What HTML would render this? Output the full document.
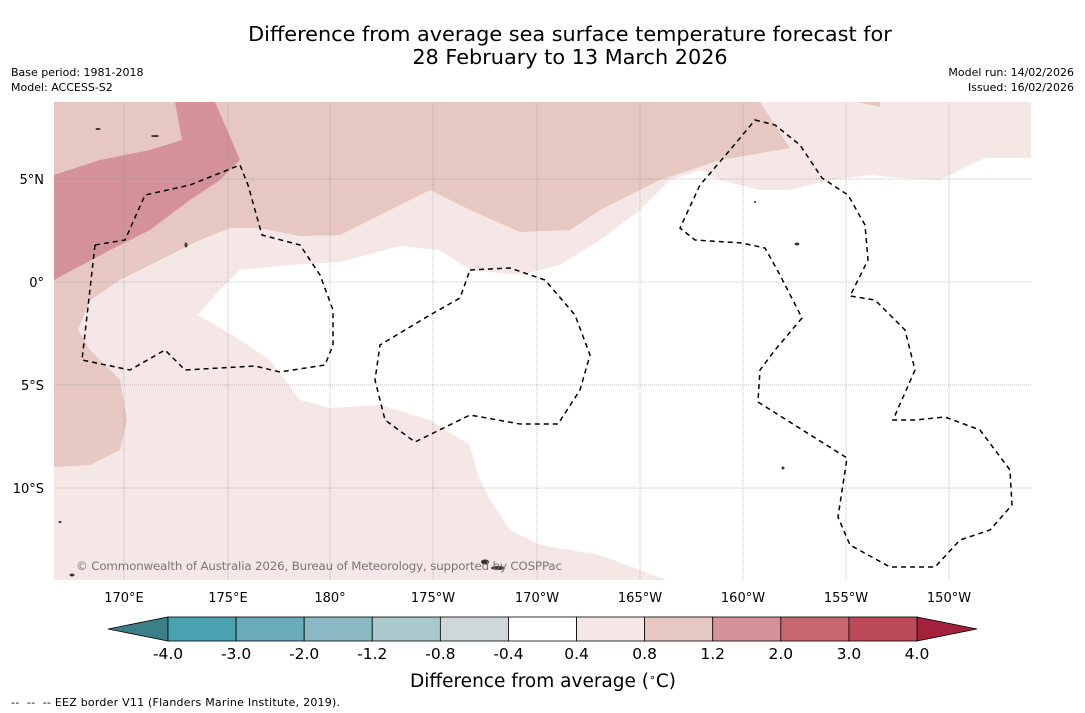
<!DOCTYPE html>
<html><head><meta charset="utf-8"><style>
body{margin:0;background:#fff;font-family:"DejaVu Sans","Liberation Sans",sans-serif;}
svg{display:block}
</style></head><body>
<svg width="1085" height="713" viewBox="0 0 1085 713">
<rect width="1085" height="713" fill="#fff"/>
<text x="570" y="41" font-size="20.8" text-anchor="middle">Difference from average sea surface temperature forecast for</text>
<text x="570" y="64" font-size="20.8" text-anchor="middle">28 February to 13 March 2026</text>
<text x="11" y="76" font-size="11">Base period: 1981-2018</text>
<text x="11" y="91" font-size="11">Model: ACCESS-S2</text>
<text x="1074" y="76" font-size="11" text-anchor="end">Model run: 14/02/2026</text>
<text x="1074" y="91" font-size="11" text-anchor="end">Issued: 16/02/2026</text>
<defs><clipPath id="mc"><rect x="54" y="102" width="977" height="478"/></clipPath></defs>
<g clip-path="url(#mc)">
<rect x="54" y="102" width="977" height="478" fill="#f4e7e5"/>
<path fill="#fff" d="M1031,158 L985,158 L940,180 L900,178 L870,175 L830,180 L790,190 L760,190 L720,180 L700,170 L670,180 L640,210 L600,240 L560,265 L520,275 L470,270 L440,250 L400,246 L340,262 L290,265 L240,270 L215,295 L198,315 L240,340 L270,360 L300,400 L330,408 L380,405 L430,420 L470,445 L478,475 L490,500 L510,530 L540,545 L600,555 L640,570 L672,582 L1031,582 Z"/>
<path fill="#fff" d="M520,102 L565,102 L560,110 L540,113 L522,110 Z"/>
<path fill="#e6c7c2" d="M54,102 L760,102 L790,148 L720,160 L660,180 L600,210 L570,230 L520,232 L470,210 L430,190 L380,215 L340,235 L300,236 L260,228 L230,228 L200,240 L170,255 L120,280 L90,300 L78,330 L90,350 L120,380 L127,420 L120,450 L90,465 L54,467 Z M858,102 L880,102 L880,107 Z"/>
<path fill="#d5919a" d="M54,175 L100,160 L150,150 L182,140 L175,102 L215,102 L240,160 L220,180 L190,200 L150,230 L110,250 L54,280 Z"/>
<g stroke="#888" stroke-width="0.5" stroke-dasharray="1,1">
<line x1="124" y1="102" x2="124" y2="580"/><line x1="228" y1="102" x2="228" y2="580"/><line x1="330" y1="102" x2="330" y2="580"/><line x1="433" y1="102" x2="433" y2="580"/><line x1="537" y1="102" x2="537" y2="580"/><line x1="640" y1="102" x2="640" y2="580"/><line x1="743" y1="102" x2="743" y2="580"/><line x1="846" y1="102" x2="846" y2="580"/><line x1="949" y1="102" x2="949" y2="580"/>
<line x1="54" y1="179" x2="1031" y2="179"/><line x1="54" y1="282" x2="1031" y2="282"/><line x1="54" y1="385" x2="1031" y2="385"/><line x1="54" y1="488" x2="1031" y2="488"/>
</g>
<g fill="none" stroke="#000" stroke-width="1.5" stroke-dasharray="5,4">
<path d="M95,245 L125,240 L145,195 L190,185 L240,165 L248,185 L262,235 L300,245 L320,275 L333,310 L333,345 L325,365 L280,372 L255,366 L185,370 L165,350 L130,370 L82,360 Z"/>
<path d="M470,270 L510,268 L545,280 L575,315 L590,355 L580,390 L558,424 L520,424 L470,415 L415,442 L385,420 L375,380 L380,345 L430,315 L460,298 Z"/>
<path d="M755,120 L775,125 L800,145 L822,178 L848,195 L865,225 L868,260 L850,296 L875,300 L905,330 L915,370 L893,420 L915,420 L945,417 L980,430 L1010,470 L1012,505 L990,530 L960,540 L935,567 L890,567 L850,545 L838,517 L847,458 L758,402 L760,370 L775,350 L802,318 L780,275 L765,248 L742,243 L695,240 L680,228 L700,185 L730,150 Z"/>
</g>
<g fill="#333">
<ellipse cx="498" cy="568" rx="7" ry="2"/><ellipse cx="485" cy="562" rx="4" ry="2.5"/><ellipse cx="72" cy="575" rx="2.5" ry="1.5"/><ellipse cx="60" cy="522" rx="1.5" ry="1"/><ellipse cx="797" cy="244" rx="2.5" ry="1.5"/><ellipse cx="755" cy="202" rx="1" ry="1"/><ellipse cx="155" cy="136" rx="4" ry="1"/><ellipse cx="98" cy="129" rx="2.5" ry="1"/><ellipse cx="186" cy="245" rx="1.5" ry="2.5"/><ellipse cx="783" cy="468" rx="1.5" ry="1.5"/>
</g>
<text x="76" y="570" font-size="11.8" fill="#777" textLength="486">© Commonwealth of Australia 2026, Bureau of Meteorology, supported by COSPPac</text>
</g>
<g font-size="13" text-anchor="middle">
<text x="124" y="602">170°E</text><text x="228" y="602">175°E</text><text x="330" y="602">180°</text><text x="433" y="602">175°W</text><text x="537" y="602">170°W</text><text x="640" y="602">165°W</text><text x="743" y="602">160°W</text><text x="846" y="602">155°W</text><text x="949" y="602">150°W</text>
</g>
<g font-size="13" text-anchor="end">
<text x="44" y="184">5°N</text><text x="44" y="287">0°</text><text x="44" y="390">5°S</text><text x="44" y="493">10°S</text>
</g>
<g id="cbar"></g>
<text x="543" y="687" font-size="18.5" text-anchor="middle">Difference from average (<tspan font-size="11" dy="-6">∘</tspan><tspan dy="6">C)</tspan></text>
<text x="11" y="706" font-size="11" xml:space="preserve" textLength="329">--  --  -- EEZ border V11 (Flanders Marine Institute, 2019).</text>
</svg>
<script>
const tickLabels=["-4.0","-3.0","-2.0","-1.2","-0.8","-0.4","0.4","0.8","1.2","2.0","3.0","4.0"];
const binColors=["#4aa1af","#69abb9","#8ab8c3","#aac9cc","#cfd7d8","#ffffff","#f4e7e5","#e6c7c2","#d5919a","#c96770","#bd4a58"];
const lowColor="#3c7f88",highColor="#a3223b";
const NS="http://www.w3.org/2000/svg";
const g=document.getElementById('cbar');
const x0=168,x1=917,y0=617,h=24,w=(x1-x0)/binColors.length;
function mk(t,a){const e=document.createElementNS(NS,t);for(const k in a)e.setAttribute(k,a[k]);g.appendChild(e);return e;}
let lt=mk('polygon',{points:`${x0},${y0} ${x0},${y0+h} 108,${y0+h/2}`,fill:lowColor,stroke:'#000','stroke-width':0.8});


let rt=mk('polygon',{points:`${x1},${y0} ${x1},${y0+h} 977,${y0+h/2}`,fill:highColor,stroke:'#000','stroke-width':0.8});


binColors.forEach((c,i)=>{
 const r=mk('rect',{x:x0+i*w,y:y0,width:w,height:h,fill:c,stroke:'#000','stroke-width':0.8});
 
 
});
tickLabels.forEach((t,i)=>{
 const e=mk('text',{x:x0+i*w,y:659,'font-size':15.5,'text-anchor':'middle'});
 e.textContent=t;
 
 
});
</script>
</body></html>
